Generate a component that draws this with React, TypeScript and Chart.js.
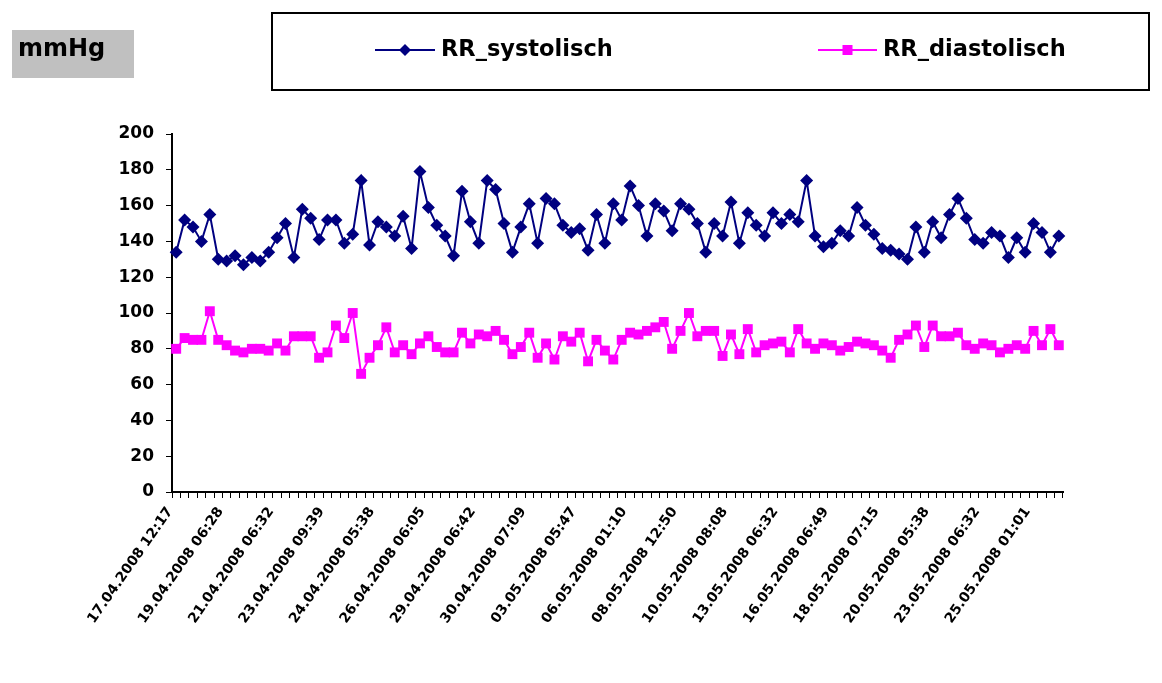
import React, { useEffect, useRef } from 'react';
import { Chart, registerables } from 'chart.js';

Chart.register(...registerables);

const unitLabel = 'mmHg';
const seriesNames = ['RR_systolisch', 'RR_diastolisch'];
const seriesColors = ['#000080', '#FF00FF'];

const tickLabels = [
  '17.04.2008 12:17', '19.04.2008 06:28', '21.04.2008 06:32', '23.04.2008 09:39',
  '24.04.2008 05:38', '26.04.2008 06:05', '29.04.2008 06:42', '30.04.2008 07:09',
  '03.05.2008 05:47', '06.05.2008 01:10', '08.05.2008 12:50', '10.05.2008 08:08',
  '13.05.2008 06:32', '16.05.2008 06:49', '18.05.2008 07:15', '20.05.2008 05:38',
  '23.05.2008 06:32', '25.05.2008 01:01',
];
const labelEvery = 6;

const systolic = [
  134, 152, 148, 140, 155, 130, 129, 132, 127, 131, 129, 134, 142, 150, 131, 158, 153, 141, 152, 152,
  139, 144, 174, 138, 151, 148, 143, 154, 136, 179, 159, 149, 143, 132, 168, 151, 139, 174, 169, 150,
  134, 148, 161, 139, 164, 161, 149, 145, 147, 135, 155, 139, 161, 152, 171, 160, 143, 161, 157, 146,
  161, 158, 150, 134, 150, 143, 162, 139, 156, 149, 143, 156, 150, 155, 151, 174, 143, 137, 139, 146,
  143, 159, 149, 144, 136, 135, 133, 130, 148, 134, 151, 142, 155, 164, 153, 141, 139, 145, 143, 131,
  142, 134, 150, 145, 134, 143,
];

const diastolic = [
  80, 86, 85, 85, 101, 85, 82, 79, 78, 80, 80, 79, 83, 79, 87, 87, 87, 75, 78, 93,
  86, 100, 66, 75, 82, 92, 78, 82, 77, 83, 87, 81, 78, 78, 89, 83, 88, 87, 90, 85,
  77, 81, 89, 75, 83, 74, 87, 84, 89, 73, 85, 79, 74, 85, 89, 88, 90, 92, 95, 80,
  90, 100, 87, 90, 90, 76, 88, 77, 91, 78, 82, 83, 84, 78, 91, 83, 80, 83, 82, 79,
  81, 84, 83, 82, 79, 75, 85, 88, 93, 81, 93, 87, 87, 89, 82, 80, 83, 82, 78, 80,
  82, 80, 90, 82, 91, 82,
];

const yMin = 0;
const yMax = 200;
const yStep = 20;

const categories = systolic.map((_, i) =>
  i % labelEvery === 0 ? tickLabels[i / labelEvery] ?? '' : ''
);

const FONT = '"DejaVu Sans", Arial, sans-serif';

function drawMarker(ctx: CanvasRenderingContext2D, style: string, x: number, y: number, r: number, color: string) {
  ctx.fillStyle = color;
  ctx.beginPath();
  if (style === 'rectRot') {
    ctx.moveTo(x, y - r);
    ctx.lineTo(x + r, y);
    ctx.lineTo(x, y + r);
    ctx.lineTo(x - r, y);
  } else {
    ctx.rect(x - r, y - r, 2 * r, 2 * r);
  }
  ctx.closePath();
  ctx.fill();
}

const headerPlugin = {
  id: 'headerPlugin',
  afterDraw(chart: any) {
    const ctx: CanvasRenderingContext2D = chart.ctx;
    ctx.save();
    // unit box
    ctx.fillStyle = '#c0c0c0';
    ctx.fillRect(12, 30, 122, 48);
    ctx.fillStyle = '#000000';
    ctx.font = `bold 24px ${FONT}`;
    ctx.textBaseline = 'middle';
    ctx.textAlign = 'left';
    ctx.fillText(unitLabel, 18, 50);

    // legend box
    ctx.strokeStyle = '#000000';
    ctx.lineWidth = 2;
    ctx.strokeRect(272, 13, 877, 77);

    const items = [
      { x0: 375, x1: 435, tx: 441, style: 'rectRot', r: 6 },
      { x0: 818, x1: 877, tx: 883, style: 'rect', r: 5 },
    ];
    const ly = 50;
    chart.data.datasets.forEach((ds: any, i: number) => {
      const it = items[i];
      if (!it) return;
      ctx.strokeStyle = ds.borderColor;
      ctx.lineWidth = 2;
      ctx.beginPath();
      ctx.moveTo(it.x0, ly);
      ctx.lineTo(it.x1, ly);
      ctx.stroke();
      drawMarker(ctx, it.style, (it.x0 + it.x1) / 2, ly, it.r, ds.borderColor);
      ctx.fillStyle = '#000000';
      ctx.font = `bold 22.5px ${FONT}`;
      ctx.fillText(ds.label, it.tx, ly);
    });
    ctx.restore();
  },
};

export default function App() {
  const canvasRef = useRef<HTMLCanvasElement | null>(null);

  useEffect(() => {
    const canvas = canvasRef.current;
    if (!canvas) return;
    const chart = new Chart(canvas, {
      type: 'line',
      data: {
        labels: categories,
        datasets: [
          {
            label: seriesNames[0],
            data: systolic,
            borderColor: seriesColors[0],
            backgroundColor: seriesColors[0],
            borderWidth: 2,
            pointStyle: 'rectRot',
            pointRadius: 6.5,
            pointBorderWidth: 0,
            pointBackgroundColor: seriesColors[0],
            tension: 0,
          },
          {
            label: seriesNames[1],
            data: diastolic,
            borderColor: seriesColors[1],
            backgroundColor: seriesColors[1],
            borderWidth: 2,
            pointStyle: 'rect',
            pointRadius: 7,
            pointBorderWidth: 0,
            pointBackgroundColor: seriesColors[1],
            tension: 0,
          },
        ],
      },
      options: {
        responsive: false,
        animation: false,
        events: [],
        layout: { padding: { top: 134, right: 99, left: 0, bottom: 0 } },
        plugins: {
          legend: { display: false },
          tooltip: { enabled: false },
          title: { display: false },
        },
        scales: {
          x: {
            type: 'category',
            offset: true,
            grid: {
              offset: true,
              drawOnChartArea: false,
              drawTicks: true,
              tickLength: 6,
              color: '#000000',
              lineWidth: 1,
            },
            border: { display: true, color: '#000000', width: 2 },
            ticks: {
              autoSkip: false,
              maxRotation: 55,
              minRotation: 55,
              padding: 6,
              labelOffset: -6,
              color: '#000000',
              font: { family: FONT, size: 14, weight: 'bold' },
              callback: (_v: any, i: number) => categories[i],
            },
            afterFit: (scale: any) => {
              scale.height = 191;
            },
          },
          y: {
            min: yMin,
            max: yMax,
            grid: {
              drawOnChartArea: false,
              drawTicks: true,
              tickLength: 6,
              color: '#000000',
              lineWidth: 1,
            },
            border: { display: true, color: '#000000', width: 2 },
            ticks: {
              stepSize: yStep,
              padding: 12,
              color: '#000000',
              font: { family: FONT, size: 17, weight: 'bold' },
            },
            afterFit: (scale: any) => {
              scale.width = 172;
            },
          },
        },
      },
      plugins: [headerPlugin],
    });
    return () => chart.destroy();
  }, []);

  return (
    <div style={{ position: 'fixed', left: 0, top: 0, width: 1162, height: 683, background: '#ffffff' }}>
      <canvas ref={canvasRef} width={1162} height={683} style={{ display: 'block' }} />
    </div>
  );
}
